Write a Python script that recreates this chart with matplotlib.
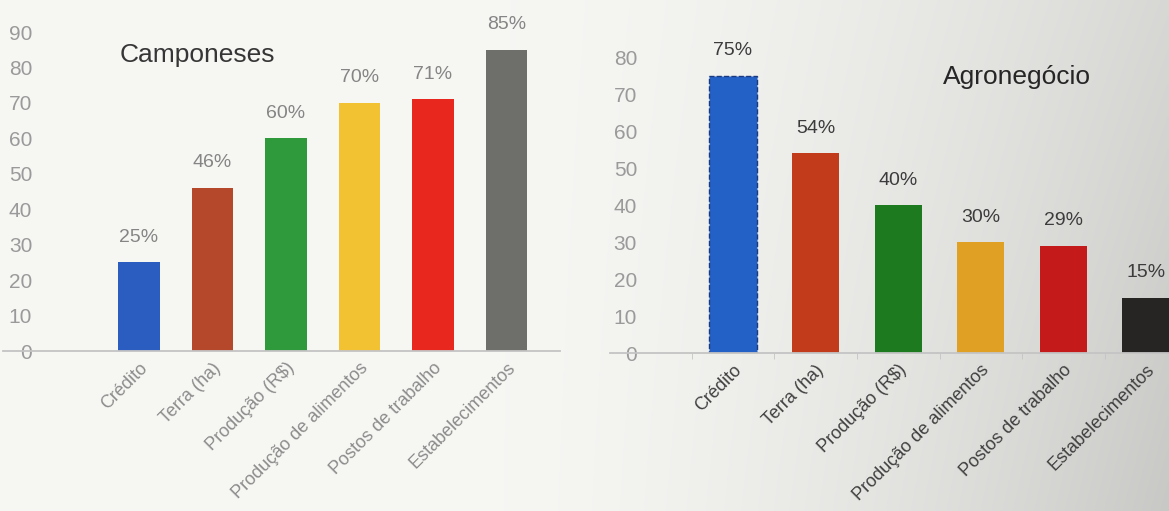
import matplotlib
matplotlib.use("Agg")
import matplotlib.pyplot as plt
import numpy as np

# Dados
categorias = ['Crédito', 'Terra (ha)', 'Produção (R$)', 'Produção de alimentos',
              'Postos de trabalho', 'Estabelecimentos']
camponeses = [25, 46, 60, 70, 71, 85]
agronegocio = [75, 54, 40, 30, 29, 15]

cores_camp = ['#2b5cbf', '#b5482b', '#2e9a3c', '#f3c232', '#e8281f', '#6e6e6b']
cores_agro = ['#2461c6', '#c23c1c', '#1d7a1f', '#e0a024', '#c41a1a', '#272524']

plt.rcParams['font.family'] = ['Liberation Sans', 'DejaVu Sans']

W, H = 1169, 511
fig = plt.figure(figsize=(W / 100, H / 100), dpi=100)

# Fundo de papel fotografado (mais claro à esquerda, acinzentado à direita)
fundo = fig.add_axes([0, 0, 1, 1], zorder=-10)
gx, gy = np.meshgrid(np.linspace(0, 1, 400), np.linspace(0, 1, 160))
t = np.clip((gx - 0.42) / 0.58, 0, 1)
brilho = 0.965 - 0.12 * t ** 1.7 - 0.06 * t ** 1.5 * gy
fundo.imshow(np.dstack([brilho, brilho, brilho * 0.988]), aspect='auto',
             extent=[0, 1, 0, 1], origin='upper', interpolation='bilinear')
fundo.axis('off')


def eixo_px(esq, topo, dir_, base):
    return fig.add_axes([esq / W, 1 - base / H, (dir_ - esq) / W, (base - topo) / H])


def desenhar(ax, valores, cores, ymax, cor_txt, cor_val, pad_y):
    x = np.arange(len(valores))
    ax.bar(x, valores, width=0.57, color=cores, zorder=2)
    ax.set_facecolor('none')
    ax.set_ylim(0, ymax)
    ax.set_yticks(np.arange(0, ymax + 1, 10))
    for lado in ['top', 'right', 'left']:
        ax.spines[lado].set_visible(False)
    ax.spines['bottom'].set_color('#c4c4c4')
    ax.spines['bottom'].set_linewidth(1.3)
    ax.tick_params(axis='y', length=0, pad=pad_y, labelsize=15, labelcolor='#9a9a9a')
    ax.set_xticks(x)
    ax.set_xticklabels(categorias, rotation=45, ha='right', rotation_mode='anchor',
                       fontsize=13, color=cor_txt)
    ax.tick_params(axis='x', length=0, pad=6)
    for i, v in enumerate(valores):
        ax.annotate(f'{v}%', (i, v), xytext=(0, 18), textcoords='offset points',
                    ha='center', va='center', fontsize=14, color=cor_val)


# Camponeses
ax1 = eixo_px(3, 32, 560, 351)
desenhar(ax1, camponeses, cores_camp, 90, '#8c8c8c', '#858585', -21)
ax1.set_xlim((3 - 139) / 73.5, (560 - 139) / 73.5)

# Agronegócio
ax2 = eixo_px(610, 57, 1169, 353)
desenhar(ax2, agronegocio, cores_agro, 80, '#404040', '#3c3c3c', -19.5)
ax2.patches[0].set_edgecolor('#1a3a80')
ax2.patches[0].set_linestyle('--')
ax2.patches[0].set_linewidth(1)
ax2.set_xticks(np.arange(-0.5, len(agronegocio) - 1, 1), minor=True)
ax2.tick_params(axis='x', which='minor', length=4, color='#c4c4c4')
ax2.set_xlim((610 - 733) / 82.6, (1169 - 733) / 82.6)

# Títulos
fig.text(197 / W, 1 - 55 / H, 'Camponeses', ha='center', va='center',
         fontsize=19, color='#363636')
fig.text(1017 / W, 1 - 77 / H, 'Agronegócio', ha='center', va='center',
         fontsize=19, color='#262626')

plt.savefig('out.png', dpi=100)
